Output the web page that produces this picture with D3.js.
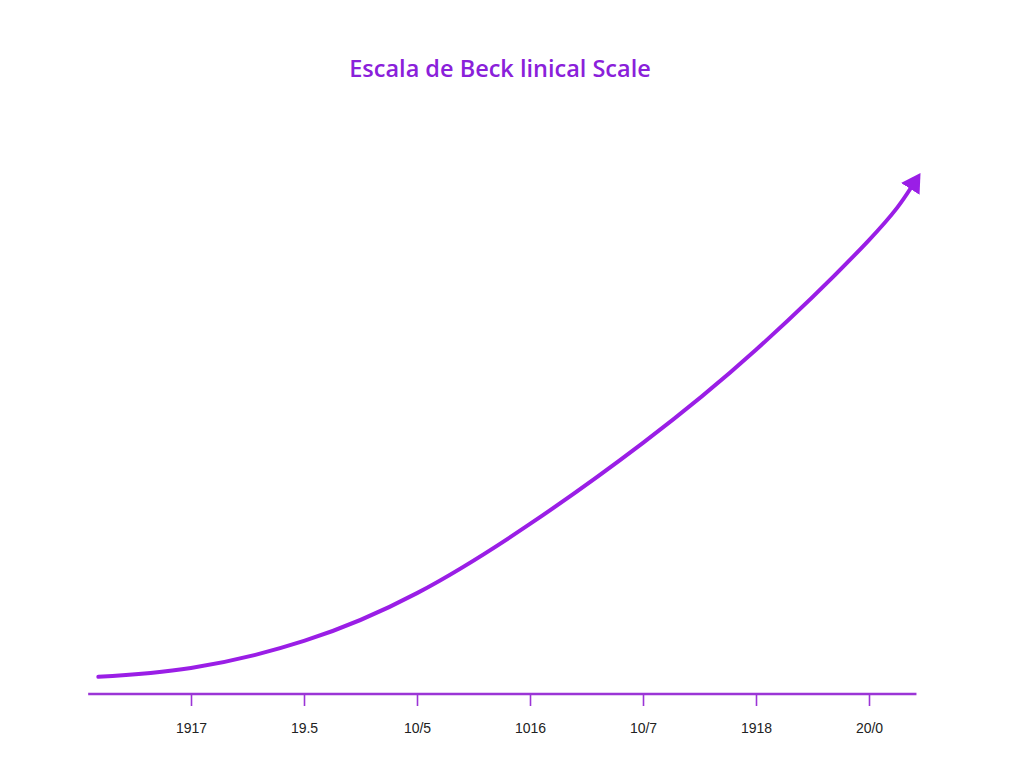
<!DOCTYPE html>
<html>
<head>
<meta charset="utf-8">
<script src="https://cdn.jsdelivr.net/npm/d3@7"></script>
<style>
  html, body { margin: 0; padding: 0; background: #ffffff; }
  svg { display: block; }
</style>
</head>
<body>
<script>
// ---- data ----
const title = "Escala de Beck linical Scale";
const tickLabels = ["1917", "19.5", "10/5", "1016", "10/7", "1918", "20/0"];
const tickIndex = [0, 1, 2, 3, 4, 5, 6];
// curve positions (in tick-index units) and values (arbitrary 0-100 scale)
const curveX = [-0.82, 0, 1, 2, 3, 4, 5, 6, 6.37];
const curveY = [3.3, 5.0, 10.2, 19.4, 32.7, 48.3, 66.2, 87.3, 97.3];
const axisExtent = [-0.91, 6.42];

// ---- layout ----
const W = 1024, H = 768;
const purple = "#9a1ee6";
const axisPurple = "#9b35d6";

const svg = d3.select("body").append("svg").attr("width", W).attr("height", H);

const x = d3.scaleLinear().domain([0, 6]).range([191, 869]);
const y = d3.scaleLinear().domain([0, 100]).range([694, 174]);

// title
svg.append("text")
  .attr("x", 500).attr("y", 77)
  .attr("text-anchor", "middle")
  .attr("font-family", "'Open Sans', 'Noto Sans', sans-serif")
  .attr("font-size", 23.5)
  .attr("font-weight", 600)
  .attr("fill", "#8a20da")
  .text(title);

// x axis
const xAxis = d3.axisBottom(x)
  .tickValues(tickIndex)
  .tickFormat((d, i) => tickLabels[i])
  .tickSize(12)
  .tickPadding(17);

const gx = svg.append("g").attr("transform", `translate(0,${y(0)})`).call(xAxis);
gx.select(".domain").remove();
gx.selectAll(".tick line").attr("stroke", axisPurple).attr("stroke-width", 1.6);
gx.selectAll(".tick text")
  .attr("fill", "#222")
  .attr("font-family", "'Liberation Sans', Arial, sans-serif")
  .attr("font-size", 14);

gx.append("line")
  .attr("x1", x(axisExtent[0])).attr("x2", x(axisExtent[1]))
  .attr("y1", 0).attr("y2", 0)
  .attr("stroke", axisPurple).attr("stroke-width", 2.6);

// arrow marker
const defs = svg.append("defs");
defs.append("marker")
  .attr("id", "arrow")
  .attr("markerUnits", "userSpaceOnUse")
  .attr("viewBox", "0 -11 19 22")
  .attr("refX", 1).attr("refY", 0)
  .attr("markerWidth", 19).attr("markerHeight", 22)
  .attr("orient", "auto")
  .append("path")
  .attr("d", "M0,-11 L19,0 L0,11 Z")
  .attr("fill", purple);

// curve
const pts = curveX.map((d, i) => [d, curveY[i]]);
const line = d3.line()
  .x(d => x(d[0]))
  .y(d => y(d[1]))
  .curve(d3.curveNatural);

svg.append("path")
  .datum(pts)
  .attr("d", line)
  .attr("fill", "none")
  .attr("stroke", purple)
  .attr("stroke-width", 4)
  .attr("stroke-linecap", "round")
  .attr("marker-end", "url(#arrow)");
</script>
</body>
</html>
